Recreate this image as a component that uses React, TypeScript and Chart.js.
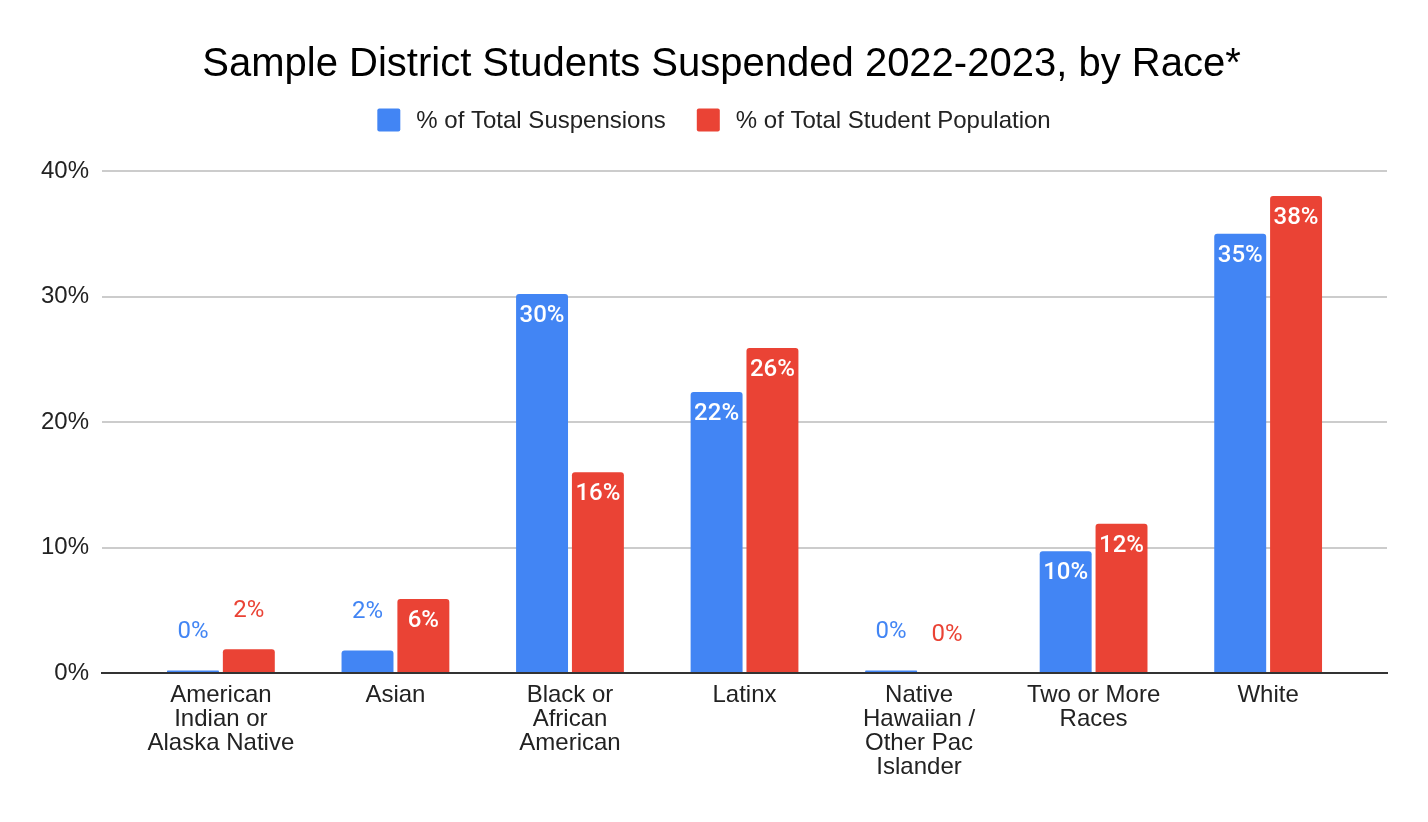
import React, { useEffect, useRef } from "react";
import { Chart, registerables } from "chart.js";

Chart.register(...registerables);

const TITLE = "Sample District Students Suspended 2022-2023, by Race*";
const categories: string[][] = [
  ["American", "Indian or", "Alaska Native"],
  ["Asian"],
  ["Black or", "African", "American"],
  ["Latinx"],
  ["Native", "Hawaiian /", "Other Pac", "Islander"],
  ["Two or More", "Races"],
  ["White"],
];
const seriesNames = ["% of Total Suspensions", "% of Total Student Population"];
const suspensions = [0.2, 1.8, 30.2, 22.4, 0.2, 9.7, 35.0];
const population = [1.9, 5.9, 16.0, 25.9, 0.0, 11.9, 38.0];
const yTicks = [0, 10, 20, 30, 40];
const colors = ["#4285F4", "#EA4335"];

const SANS = "'Liberation Sans', Arial, sans-serif";
const LABEL_FONT = "Roboto, 'Liberation Sans', sans-serif";

const headerPlugin = {
  id: "header",
  afterDraw(chart: any) {
    const ctx = chart.ctx;
    ctx.save();
    // title
    ctx.font = `40px ${SANS}`;
    ctx.fillStyle = "#000";
    ctx.textAlign = "center";
    ctx.textBaseline = "middle";
    ctx.fillText(TITLE, 721.5, 65);
    // legend
    ctx.font = `24px ${SANS}`;
    const box = 23;
    const gapText = 16;
    const gapItem = 31;
    const widths = seriesNames.map((n) => box + gapText + ctx.measureText(n).width);
    const total = widths.reduce((a, b) => a + b, 0) + gapItem * (seriesNames.length - 1);
    let x = chart.width / 2 - total / 2;
    const cy = 120;
    seriesNames.forEach((n, i) => {
      ctx.fillStyle = colors[i];
      ctx.beginPath();
      (ctx as any).roundRect(x, cy - box / 2, box, box, 2);
      ctx.fill();
      ctx.fillStyle = "#222";
      ctx.textAlign = "left";
      ctx.textBaseline = "middle";
      ctx.fillText(n, x + box + gapText, cy + 1);
      x += widths[i] + gapItem;
    });
    ctx.restore();
  },
};

const dataLabelPlugin = {
  id: "barValueLabels",
  afterDatasetsDraw(chart: any) {
    const ctx = chart.ctx;
    ctx.save();
    ctx.textAlign = "center";
    ctx.textBaseline = "middle";
    chart.data.datasets.forEach((ds: any, di: number) => {
      const meta = chart.getDatasetMeta(di);
      meta.data.forEach((el: any, i: number) => {
        const raw = ds.data[i];
        const v = typeof raw === "object" ? raw.y : raw;
        const text = `${Math.round(v)}%`;
        const h = el.base - el.y;
        if (h >= 40) {
          ctx.fillStyle = "#ffffff";
          ctx.font = `500 24px ${LABEL_FONT}`;
          ctx.fillText(text, el.x, el.y + 22);
        } else {
          ctx.fillStyle = colors[di];
          ctx.font = `24px ${LABEL_FONT}`;
          ctx.fillText(text, el.x, el.y - 38);
        }
      });
    });
    ctx.restore();
  },
};

export default function App() {
  const ref = useRef<HTMLCanvasElement | null>(null);

  useEffect(() => {
    if (!ref.current) return;
    const chart = new Chart(ref.current, {
      type: "bar",
      data: {
        datasets: [
          {
            label: seriesNames[0],
            data: suspensions.map((y, i) => ({ x: i, y })),
            backgroundColor: colors[0],
            borderRadius: 3,
            borderSkipped: "bottom",
          },
          {
            label: seriesNames[1],
            data: population.map((y, i) => ({ x: i, y })),
            backgroundColor: colors[1],
            borderRadius: 3,
            borderSkipped: "bottom",
          },
        ],
      },
      options: {
        responsive: false,
        animation: false,
        categoryPercentage: 0.64,
        barPercentage: 0.93,
        layout: { padding: { left: 28, right: 41, top: 171, bottom: 33 } },
        plugins: {
          legend: { display: false },
          tooltip: { enabled: false },
          title: { display: false },
        },
        scales: {
          x: {
            type: "linear",
            min: -0.681,
            max: 6.681,
            offset: false,
            grid: { display: false, drawTicks: false, offset: false },
            border: { display: true, color: "#333333", width: 2 },
            afterBuildTicks: (scale: any) => {
              scale.ticks = categories.map((_, i) => ({ value: i }));
            },
            afterFit: (scale: any) => {
              scale.paddingLeft = 0;
              scale.paddingRight = 0;
            },
            ticks: {
              autoSkip: false,
              maxRotation: 0,
              minRotation: 0,
              padding: 10,
              color: "#222",
              font: { family: SANS, size: 24, lineHeight: 1 },
              callback: (v: any) => categories[Math.round(Number(v))] ?? "",
            },
          },
          y: {
            min: 0,
            max: 40,
            afterBuildTicks: (scale: any) => {
              scale.ticks = yTicks.map((v) => ({ value: v }));
            },
            afterFit: (scale: any) => {
              scale.paddingTop = 0;
              scale.paddingBottom = 0;
            },
            grid: { color: "#cccccc", lineWidth: 2, drawTicks: false },
            border: { display: false },
            ticks: {
              padding: 13,
              color: "#222",
              font: { family: SANS, size: 24 },
              callback: (v: any) => `${v}%`,
            },
          },
        },
      } as any,
      plugins: [dataLabelPlugin, headerPlugin],
    });
    return () => chart.destroy();
  }, []);

  return (
    <div style={{ position: "fixed", left: 0, top: 0, width: 1428, height: 822, background: "#fff" }}>
      <canvas ref={ref} width={1428} height={822} style={{ width: 1428, height: 822 }} />
    </div>
  );
}
